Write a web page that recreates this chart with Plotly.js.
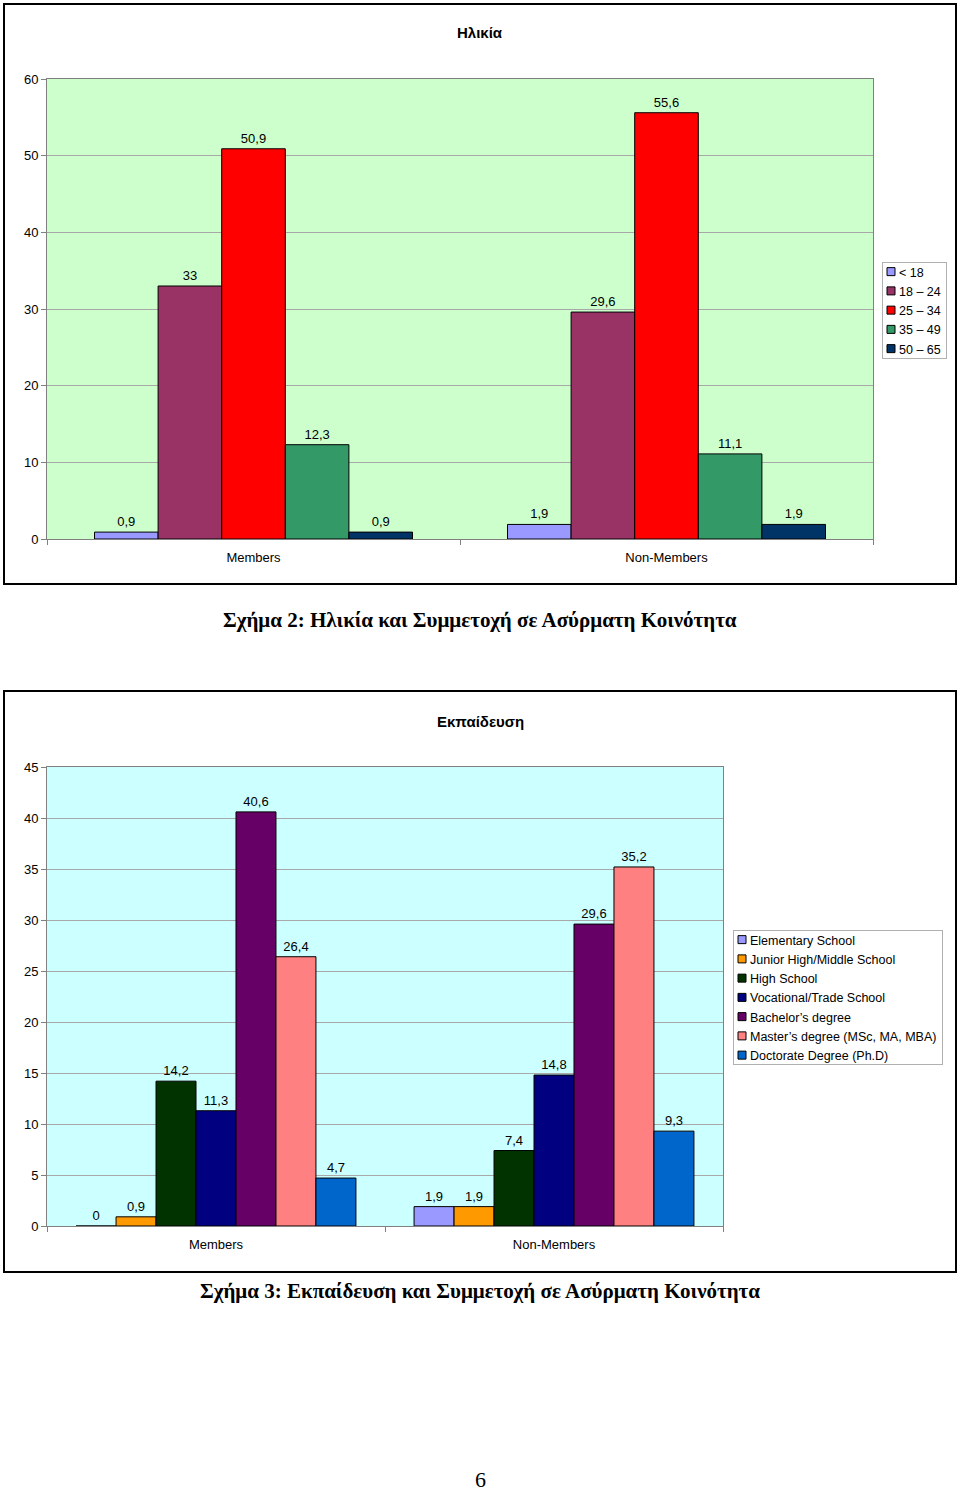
<!DOCTYPE html>
<html><head><meta charset="utf-8">
<script src="https://cdn.plot.ly/plotly-3.0.1.min.js"></script>
<style>html,body{margin:0;padding:0;background:#fff;overflow:hidden;width:960px;height:1493px;} #chart{width:960px;height:1493px;overflow:hidden;}</style>
</head><body><div id="chart"></div>
<script>
// ---------- DATA ----------
const ageCategories = ['Members', 'Non-Members'];
const ageGroups = ['< 18', '18 – 24', '25 – 34', '35 – 49', '50 – 65'];
const ageMembers = [0.9, 33, 50.9, 12.3, 0.9];
const ageNonMembers = [1.9, 29.6, 55.6, 11.1, 1.9];

const eduCategories = ['Members', 'Non-Members'];
const eduLevels = ['Elementary School', 'Junior High/Middle School', 'High School', 'Vocational/Trade School', 'Bachelor’s degree', 'Master’s degree (MSc, MA, MBA)', 'Doctorate Degree (Ph.D)'];
const eduMembers = [0, 0.9, 14.2, 11.3, 40.6, 26.4, 4.7];
const eduNonMembers = [1.9, 1.9, 7.4, 14.8, 29.6, 35.2, 9.3];

const ageTitle = 'Ηλικία';
const eduTitle = 'Εκπαίδευση';
const caption2 = 'Σχήμα 2: Ηλικία και Συμμετοχή σε Ασύρματη Κοινότητα';
const caption3 = 'Σχήμα 3: Εκπαίδευση και Συμμετοχή σε Ασύρματη Κοινότητα';
const pageNumber = '6';

// ---------- STYLE ----------
const ageColors = ['#9999FF', '#993366', '#FF0000', '#339966', '#003366'];
const eduColors = ['#9999FF', '#FF9900', '#003300', '#000080', '#660066', '#FF8080', '#0066CC'];
const SANS = '"Liberation Sans", Arial, Helvetica, sans-serif';
const SERIF = '"Liberation Serif", "Times New Roman", serif';
const W = 960, H = 1493;
const px = v => v / W;
const py = v => 1 - v / H;
const fmt = v => String(v).replace('.', ',');

function makeTraces(names, a, b, colors, cats, xa, ya, leg, groupFrac) {
  const n = names.length, w = groupFrac / n;
  return names.map((name, i) => ({
    type: 'bar', name: name,
    x: cats.map((c, j) => j), y: [a[i], b[i]],
    width: w, offset: -groupFrac / 2 + i * w,
    marker: { color: colors[i], line: { color: '#000', width: 1 } },
    text: [fmt(a[i]), fmt(b[i])], textposition: 'outside',
    textfont: { family: SANS, size: 13, color: '#000' },
    cliponaxis: false, xaxis: xa, yaxis: ya, legend: leg, hoverinfo: 'skip'
  }));
}

const data = [].concat(
  makeTraces(ageGroups, ageMembers, ageNonMembers, ageColors, ageCategories, 'x', 'y', 'legend', 0.77),
  makeTraces(eduLevels, eduMembers, eduNonMembers, eduColors, eduCategories, 'x2', 'y2', 'legend2', 0.828)
);

function xAxis(domain, cats) {
  return {
    domain: domain, range: [-0.5, cats.length - 0.5], type: 'linear',
    tickmode: 'array', tickvals: cats.map((c, j) => j), ticktext: cats,
    ticks: '', ticklabelstandoff: 6,
    minor: { tickmode: 'array', tickvals: [-0.5, 0.5, 1.5], ticks: 'outside', ticklen: 5, tickcolor: '#808080', showgrid: false },
    showline: true, linecolor: '#808080', linewidth: 1, mirror: true,
    showgrid: false, zeroline: false, fixedrange: true, automargin: false,
    tickfont: { family: SANS, size: 13, color: '#000' }
  };
}
function yAxis(domain, max, dt) {
  return {
    domain: domain, range: [0, max], dtick: dt, tick0: 0,
    ticks: 'outside', ticklen: 5, tickcolor: '#808080',
    showline: true, linecolor: '#808080', linewidth: 1, mirror: true,
    showgrid: true, gridcolor: '#a8a8a8', gridwidth: 1, zeroline: false, fixedrange: true, automargin: false,
    tickfont: { family: SANS, size: 13, color: '#000' }
  };
}

const legendBase = {
  xanchor: 'left', yanchor: 'top', bgcolor: '#fff', bordercolor: '#b0b0b0', borderwidth: 1,
  font: { family: SANS, size: 12.5, color: '#000' }, traceorder: 'normal', tracegroupgap: 0
};

function ann(text, x, y, font) {
  return { text: text, xref: 'paper', yref: 'paper', x: px(x), y: py(y), xanchor: 'center', yanchor: 'middle', showarrow: false, font: font };
}

const layout = {
  width: W, height: H, margin: { l: 0, r: 0, t: 0, b: 0, autoexpand: false }, autosize: false,
  paper_bgcolor: '#fff', showlegend: true, barmode: 'overlay', hovermode: false,
  xaxis: xAxis([px(47), px(873)], ageCategories),
  yaxis: Object.assign(yAxis([py(539), py(79)], 60, 10), { anchor: 'x' }),
  xaxis2: Object.assign(xAxis([px(47), px(723)], eduCategories), { anchor: 'y2' }),
  yaxis2: Object.assign(yAxis([py(1226), py(767)], 45, 5), { anchor: 'x2' }),
  legend: Object.assign({}, legendBase, { x: px(882), y: py(256) }),
  legend2: Object.assign({}, legendBase, { x: px(733), y: py(924) }),
  shapes: [
    { type: 'rect', xref: 'paper', yref: 'paper', x0: px(47), x1: px(873), y0: py(539), y1: py(79), fillcolor: '#CCFFCC', line: { width: 0 }, layer: 'below' },
    { type: 'rect', xref: 'paper', yref: 'paper', x0: px(47), x1: px(723), y0: py(1226), y1: py(767), fillcolor: '#CCFFFF', line: { width: 0 }, layer: 'below' },
    { type: 'rect', xref: 'paper', yref: 'paper', x0: px(4), x1: px(956), y0: py(584), y1: py(4), line: { color: '#000', width: 2 } },
    { type: 'rect', xref: 'paper', yref: 'paper', x0: px(4), x1: px(956), y0: py(1272), y1: py(691), line: { color: '#000', width: 2 } }
  ],
  annotations: [
    ann('<b>' + ageTitle + '</b>', 480, 33, { family: SANS, size: 15, color: '#000' }),
    ann('<b>' + eduTitle + '</b>', 480, 721, { family: SANS, size: 15, color: '#000' }),
    ann('<b>' + caption2 + '</b>', 480, 620, { family: SERIF, size: 21, color: '#000' }),
    ann('<b>' + caption3 + '</b>', 480, 1291, { family: SERIF, size: 21, color: '#000' }),
    ann(pageNumber, 480, 1479, { family: SERIF, size: 22, color: '#000' })
  ]
};

// Make the legend entries compact like the original (small swatch, text close to it)
function compactLegends() {
  const shift = 24, dy = 6;
  document.querySelectorAll('g.legend, g.legend2').forEach(lg => {
    lg.querySelectorAll('g.traces text').forEach(t => t.setAttribute('transform', 'translate(' + (-shift) + ',0)'));
    lg.querySelectorAll('.legendpoints path').forEach(p => {
      p.setAttribute('d', 'M4,4H-4V-4H4Z');
      p.setAttribute('transform', 'translate(8,0)');
    });
    const bg = lg.querySelector('rect.bg');
    if (bg) {
      const w0 = parseFloat(bg.getAttribute('width')), h0 = parseFloat(bg.getAttribute('height')), y0 = parseFloat(bg.getAttribute('y')) || 0;
      if (bg.getAttribute('data-w') !== String(w0)) {
        bg.setAttribute('width', w0 - shift);
        bg.setAttribute('y', y0 + dy);
        bg.setAttribute('height', h0 - 2 * dy);
        bg.setAttribute('data-w', String(w0 - shift));
      }
    }
  });
}

const gd = document.getElementById('chart');
Plotly.newPlot(gd, data, layout, { staticPlot: true, displayModeBar: false }).then(() => {
  compactLegends();
  gd.on('plotly_afterplot', compactLegends);
  setTimeout(compactLegends, 50);
});
</script>
</body></html>
